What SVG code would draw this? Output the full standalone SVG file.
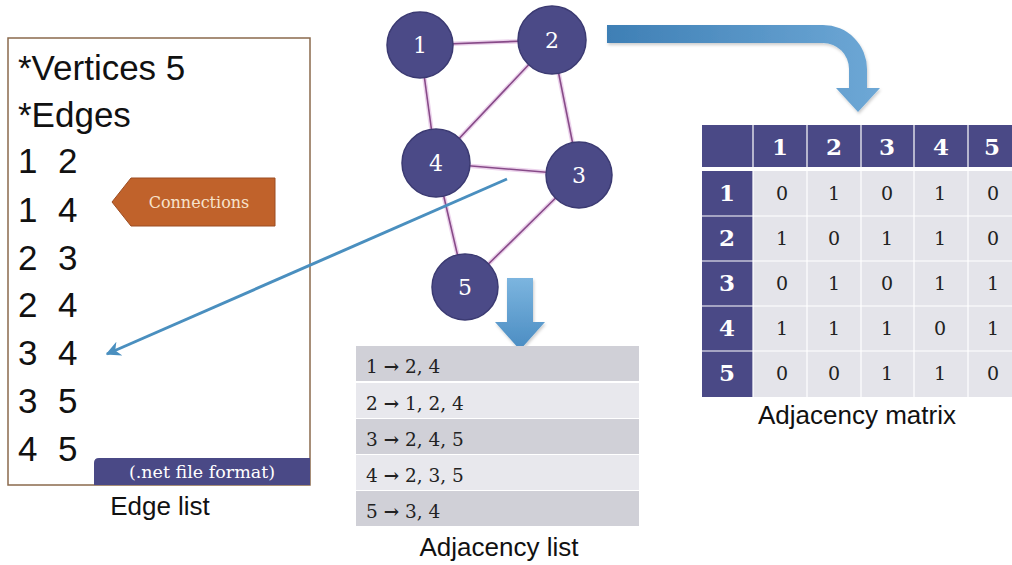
<svg xmlns="http://www.w3.org/2000/svg" width="1012" height="565" viewBox="0 0 1012 565">
  <style>
    .sans { font-family: "Liberation Sans", Arial, sans-serif; fill: #111; }
    .serif { font-family: "DejaVu Serif", "Liberation Serif", serif; }
    .edgeRow { font-size: 35px; }
    .label { font-size: 26px; text-anchor: middle; }
    .node circle { fill: #4b4a87; stroke: #3b3a72; stroke-width: 1.5; }
    .node text { fill: #fff; font-size: 22px; text-anchor: middle; }
    .glow { stroke: #ecd3ec; stroke-width: 4.5; fill: none; }
    .link { stroke: #874a88; stroke-width: 1.6; fill: none; }
    .listRow text { font-size: 18.5px; fill: #222; }
    .arr { font-weight: bold; }
    .hdr { fill: #4a4986; }
    .cell { fill: #e4e4ea; }
    .hdrTxt { fill: #fff; font-size: 23px; font-weight: bold; text-anchor: middle; }
    .val { fill: #222; font-size: 19px; text-anchor: middle; }
  </style>
  <defs>
    <linearGradient id="bendGrad" x1="0" y1="0" x2="1" y2="0">
      <stop offset="0" stop-color="#3e7fb5"/>
      <stop offset="1" stop-color="#6ea8d6"/>
    </linearGradient>
    <linearGradient id="downGrad" x1="0" y1="0" x2="0" y2="1">
      <stop offset="0" stop-color="#7cb5df"/>
      <stop offset="1" stop-color="#4a8cc2"/>
    </linearGradient>
    <filter id="soft" x="-10%" y="-10%" width="130%" height="140%">
      <feDropShadow dx="1" dy="2" stdDeviation="1.5" flood-color="#000" flood-opacity="0.2"/>
    </filter>
    <marker id="blueHead" viewBox="0 0 10 10" refX="9" refY="5" markerWidth="5" markerHeight="5" orient="auto" markerUnits="strokeWidth">
      <path d="M0,0 L10,5 L0,10 L3,5 Z" fill="#4a8fbf"/>
    </marker>
  </defs>

  <rect width="1012" height="565" fill="#fff"/>

  <!-- Edge list panel -->
  <g id="edge-list">
    <rect x="8" y="38" width="302" height="447" fill="#fff" stroke="#8a6a4c" stroke-width="1.5"/>
    <text class="sans edgeRow" x="18" y="80">*Vertices 5</text>
    <text class="sans edgeRow" x="18" y="127">*Edges</text>
    <text class="sans edgeRow" y="173"><tspan x="18">1</tspan><tspan x="58">2</tspan></text>
    <text class="sans edgeRow" y="222"><tspan x="18">1</tspan><tspan x="58">4</tspan></text>
    <text class="sans edgeRow" y="270"><tspan x="18">2</tspan><tspan x="58">3</tspan></text>
    <text class="sans edgeRow" y="317"><tspan x="18">2</tspan><tspan x="58">4</tspan></text>
    <text class="sans edgeRow" y="365"><tspan x="18">3</tspan><tspan x="58">4</tspan></text>
    <text class="sans edgeRow" y="413"><tspan x="18">3</tspan><tspan x="58">5</tspan></text>
    <text class="sans edgeRow" y="461"><tspan x="18">4</tspan><tspan x="58">5</tspan></text>
    <path d="M94,485 V463 Q94,458 99,458 H310 V485 Z" fill="#4a4986"/>
    <text class="serif" x="202" y="478" font-size="17.5" fill="#fff" text-anchor="middle">(.net file format)</text>
  </g>
  <text class="sans label" x="160" y="515">Edge list</text>

  <!-- Connections tag -->
  <g id="connections-tag">
    <path d="M112,202 L131,178 H275 V226 H131 Z" fill="#c0622b" stroke="#9c4d22" stroke-width="1"/>
    <text class="serif" x="199" y="208" font-size="16" fill="#f7e3cc" text-anchor="middle">Connections</text>
  </g>

  <!-- Graph links -->
  <g id="links">
    <g class="glow">
      <line x1="420" y1="45" x2="552" y2="40"/>
      <line x1="420" y1="45" x2="436" y2="163"/>
      <line x1="552" y1="40" x2="436" y2="163"/>
      <line x1="552" y1="40" x2="579" y2="175"/>
      <line x1="436" y1="163" x2="579" y2="175"/>
      <line x1="436" y1="163" x2="465" y2="287"/>
      <line x1="579" y1="175" x2="465" y2="287"/>
    </g>
    <g class="link">
      <line x1="420" y1="45" x2="552" y2="40"/>
      <line x1="420" y1="45" x2="436" y2="163"/>
      <line x1="552" y1="40" x2="436" y2="163"/>
      <line x1="552" y1="40" x2="579" y2="175"/>
      <line x1="436" y1="163" x2="579" y2="175"/>
      <line x1="436" y1="163" x2="465" y2="287"/>
      <line x1="579" y1="175" x2="465" y2="287"/>
    </g>
  </g>

  <!-- Graph vertices -->
  <g id="node-1" class="node"><circle cx="420" cy="45" r="33"/><text class="serif" x="420" y="53">1</text></g>
  <g id="node-2" class="node"><circle cx="552" cy="40" r="34"/><text class="serif" x="552" y="48">2</text></g>
  <g id="node-4" class="node"><circle cx="436" cy="163" r="34"/><text class="serif" x="436" y="171">4</text></g>
  <g id="node-3" class="node"><circle cx="579" cy="175" r="33"/><text class="serif" x="579" y="183">3</text></g>
  <g id="node-5" class="node"><circle cx="465" cy="287" r="33"/><text class="serif" x="465" y="295">5</text></g>

  <!-- Pointer from graph to edge list -->
  <g id="pointer">
    <line x1="507" y1="179" x2="107" y2="354" stroke="#4a8fbf" stroke-width="3" marker-end="url(#blueHead)"/>
  </g>

  <!-- Block arrows -->
  <g id="to-matrix" filter="url(#soft)">
    <path d="M607,25 H823 A44,44 0 0 1 867,69 V88 H880 L858,112 L836,88 H849 V69 A26,26 0 0 0 823,43 H607 Z" fill="url(#bendGrad)"/>
  </g>
  <g id="to-list" filter="url(#soft)">
    <path d="M507,278 H533 V322 H545 L520,350 L495,322 H507 Z" fill="url(#downGrad)"/>
  </g>

  <!-- Adjacency list -->
  <g id="adjacency-list" class="listRow">
    <rect x="356" y="346" width="283" height="35" fill="#d0d0d7"/>
    <rect x="356" y="383" width="283" height="35" fill="#e8e8ed"/>
    <rect x="356" y="419" width="283" height="35" fill="#d0d0d7"/>
    <rect x="356" y="455" width="283" height="35" fill="#e8e8ed"/>
    <rect x="356" y="491" width="283" height="35" fill="#d0d0d7"/>
    <text class="serif" x="366" y="373">1 <tspan class="arr">→</tspan> 2, 4</text>
    <text class="serif" x="366" y="410">2 <tspan class="arr">→</tspan> 1, 2, 4</text>
    <text class="serif" x="366" y="446">3 <tspan class="arr">→</tspan> 2, 4, 5</text>
    <text class="serif" x="366" y="482">4 <tspan class="arr">→</tspan> 2, 3, 5</text>
    <text class="serif" x="366" y="518">5 <tspan class="arr">→</tspan> 3, 4</text>
  </g>
  <text class="sans label" x="499" y="556">Adjacency list</text>

  <!-- Adjacency matrix -->
  <g id="adjacency-matrix">
    <rect class="hdr" x="702" y="125" width="310" height="42"/>
    <rect class="hdr" x="702" y="171" width="51" height="226"/>
    <rect class="cell" x="753" y="171" width="259" height="226"/>
    <g stroke="#fff" stroke-width="1.2">
      <line x1="753" y1="125" x2="753" y2="397"/>
      <line x1="807" y1="125" x2="807" y2="397"/>
      <line x1="861" y1="125" x2="861" y2="397"/>
      <line x1="914" y1="125" x2="914" y2="397"/>
      <line x1="968" y1="125" x2="968" y2="397"/>
      <line x1="702" y1="216" x2="1012" y2="216"/>
      <line x1="702" y1="261" x2="1012" y2="261"/>
      <line x1="702" y1="306" x2="1012" y2="306"/>
      <line x1="702" y1="351" x2="1012" y2="351"/>
    </g>
    <g class="serif hdrTxt">
      <text x="780" y="155">1</text><text x="834" y="155">2</text><text x="887" y="155">3</text><text x="941" y="155">4</text><text x="992" y="155">5</text>
      <text x="727" y="201">1</text><text x="727" y="246">2</text><text x="727" y="291">3</text><text x="727" y="336">4</text><text x="727" y="381">5</text>
    </g>
    <g class="serif val">
      <text x="782" y="200">0</text><text x="834" y="200">1</text><text x="887" y="200">0</text><text x="940" y="200">1</text><text x="993" y="200">0</text>
      <text x="782" y="245">1</text><text x="834" y="245">0</text><text x="887" y="245">1</text><text x="940" y="245">1</text><text x="993" y="245">0</text>
      <text x="782" y="290">0</text><text x="834" y="290">1</text><text x="887" y="290">0</text><text x="940" y="290">1</text><text x="993" y="290">1</text>
      <text x="782" y="335">1</text><text x="834" y="335">1</text><text x="887" y="335">1</text><text x="940" y="335">0</text><text x="993" y="335">1</text>
      <text x="782" y="380">0</text><text x="834" y="380">0</text><text x="887" y="380">1</text><text x="940" y="380">1</text><text x="993" y="380">0</text>
    </g>
  </g>
  <text class="sans label" x="857" y="424">Adjacency matrix</text>
</svg>
